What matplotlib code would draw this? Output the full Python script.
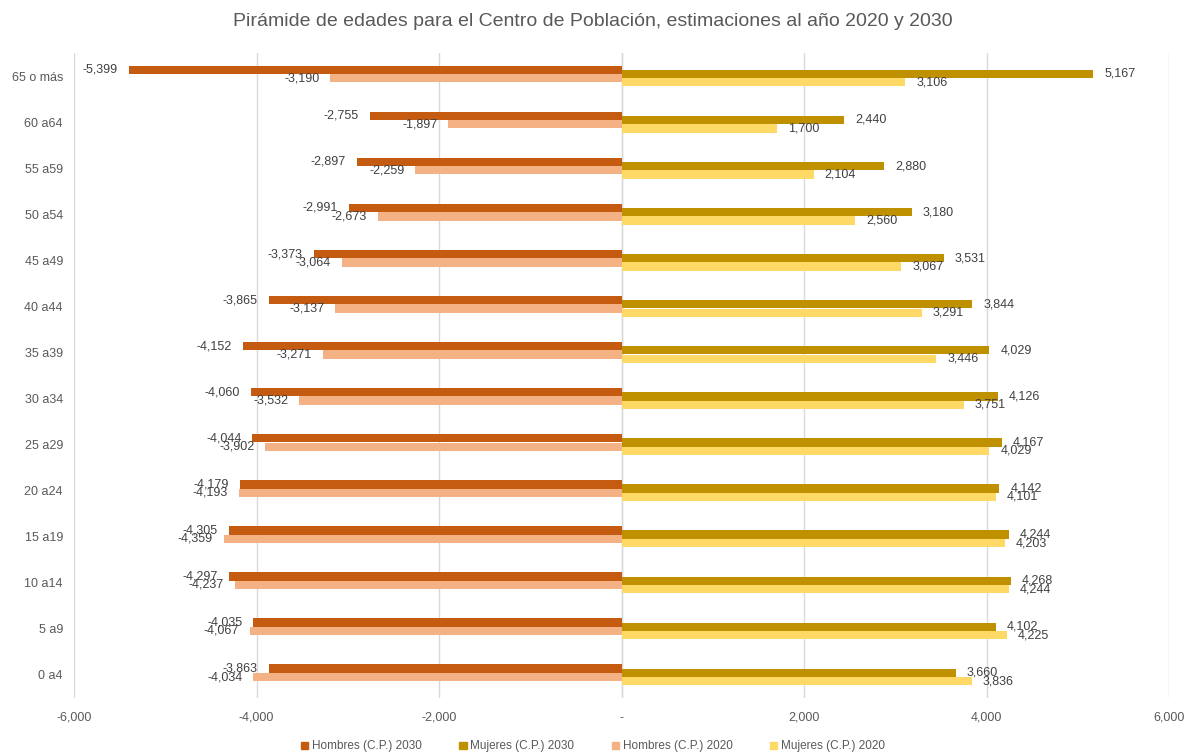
import matplotlib.pyplot as plt
from matplotlib.patches import Patch
from matplotlib.ticker import FuncFormatter

plt.rcParams['font.family'] = ['Liberation Sans', 'DejaVu Sans']

# age groups, bottom to top
grupos = ["0 a4", "5 a9", "10 a14", "15 a19", "20 a24", "25 a29", "30 a34",
          "35 a39", "40 a44", "45 a49", "50 a54", "55 a59", "60 a64", "65 o más"]

hombres_2030 = [-3863, -4035, -4297, -4305, -4179, -4044, -4060,
                -4152, -3865, -3373, -2991, -2897, -2755, -5399]
mujeres_2030 = [3660, 4102, 4268, 4244, 4142, 4167, 4126,
                4029, 3844, 3531, 3180, 2880, 2440, 5167]
hombres_2020 = [-4034, -4067, -4237, -4359, -4193, -3902, -3532,
                -3271, -3137, -3064, -2673, -2259, -1897, -3190]
mujeres_2020 = [3836, 4225, 4244, 4203, 4101, 4029, 3751,
                3446, 3291, 3067, 2560, 2104, 1700, 3106]

series = [
    ("Hombres (C.P.) 2030", hombres_2030, "#C55A11", 0.137),
    ("Mujeres (C.P.) 2030", mujeres_2030, "#BF9000", 0.046),
    ("Hombres (C.P.) 2020", hombres_2020, "#F4B183", -0.046),
    ("Mujeres (C.P.) 2020", mujeres_2020, "#FFD966", -0.137),
]

fig = plt.figure(figsize=(11.86, 7.54), dpi=100)
ax = fig.add_axes([0.0624, 0.0743, 0.9233, 0.8554])

pos = list(range(len(grupos)))
for nombre, vals, color, off in series:
    y = [p + off for p in pos]
    bars = ax.barh(y, vals, height=0.18, color=color, label=nombre, zorder=3)
    for b, v in zip(bars, vals):
        cy = b.get_y() + b.get_height() / 2
        if v < 0:
            ax.annotate(f"{v:,}", (v, cy), xytext=(-8, 0), textcoords="offset points",
                        ha="right", va="center", fontsize=9, color="#404040", zorder=4)
        else:
            ax.annotate(f"{v:,}", (v, cy), xytext=(8, 0), textcoords="offset points",
                        ha="left", va="center", fontsize=9, color="#404040", zorder=4)

ax.set_xlim(-6000, 6000)
ax.set_ylim(-0.5, len(grupos) - 0.5)
ax.set_yticks(pos)
ax.set_yticklabels(grupos)
ax.set_xticks(range(-6000, 6001, 2000))
ax.xaxis.set_major_formatter(FuncFormatter(lambda x, p: "-" if x == 0 else f"{int(x):,}"))
ax.tick_params(axis="both", length=0, labelsize=9, colors="#595959")
ax.tick_params(axis="x", pad=10)
ax.tick_params(axis="y", pad=8)
ax.grid(axis="x", color="#D9D9D9", linewidth=1, zorder=0)
ax.axvline(0, color="#D9D9D9", linewidth=1, zorder=2)
for s in ax.spines.values():
    s.set_visible(False)

fig.suptitle("Pirámide de edades para el Centro de Población, estimaciones al año 2020 y 2030",
             y=0.983, fontsize=14, color="#595959")

handles = [Patch(color=c, label=n) for n, _, c, _ in series]
fig.legend(handles=handles, loc="lower center", bbox_to_anchor=(0.5, -0.012), ncol=4,
           frameon=False, fontsize=8.5, handlelength=0.6, handleheight=0.6,
           handletextpad=0.3, columnspacing=3.2, labelcolor="#595959")

fig.savefig("out.png", dpi=100)
